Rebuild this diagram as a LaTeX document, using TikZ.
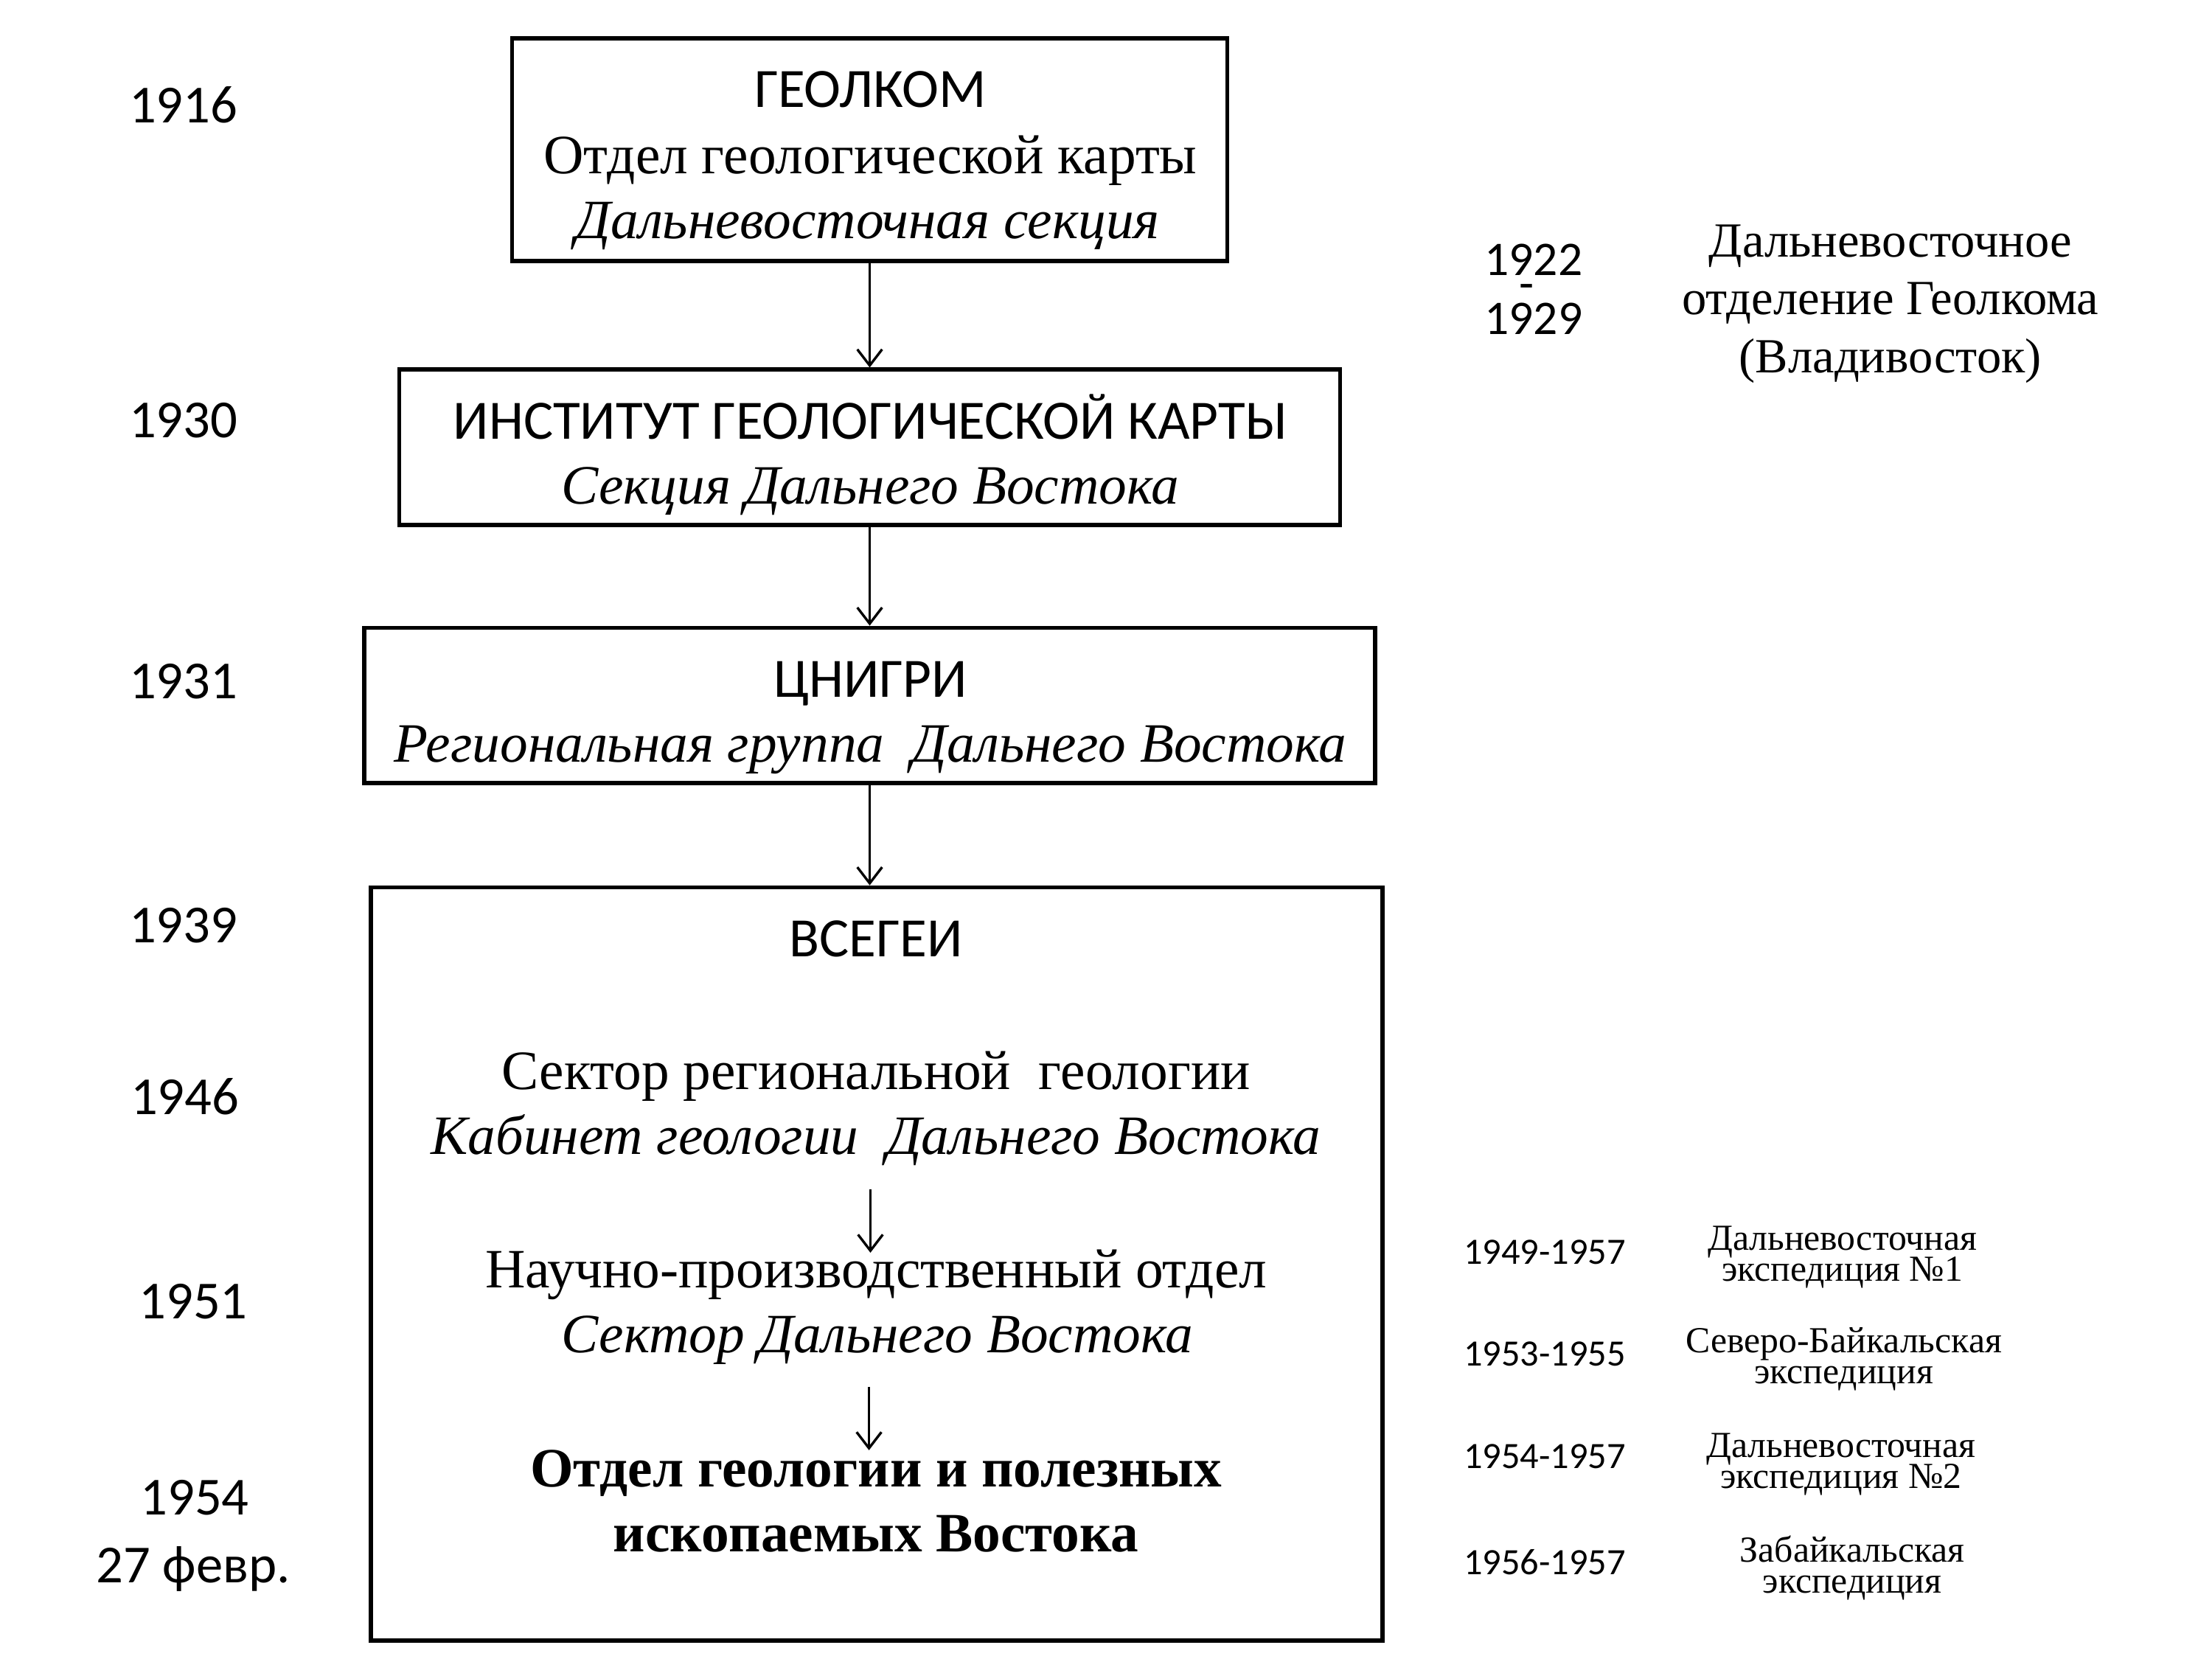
\documentclass[tikz,border=0pt]{standalone}
\usepackage{fontspec}
\setmainfont{Liberation Serif}
\newfontfamily\calfont{Carlito}
\usetikzlibrary{arrows.meta}
\tikzset{
  frame/.style={draw=black, line width=1.7pt, inner sep=0pt},
  yr/.style={font=\calfont\fontsize{21.6}{26}\selectfont, anchor=base, inner sep=0pt},
  yrsmall/.style={font=\calfont\fontsize{15}{17}\selectfont, anchor=base, inner sep=0pt},
  sansline/.style={font=\calfont\fontsize{22.4}{28}\selectfont, anchor=base, inner sep=0pt},
  serline/.style={font=\fontsize{22.4}{28}\selectfont, anchor=base, inner sep=0pt},
  itline/.style={font=\itshape\fontsize{22.4}{28}\selectfont, anchor=base, inner sep=0pt},
  boldline/.style={font=\bfseries\fontsize{22.4}{28}\selectfont, anchor=base, inner sep=0pt},
  sideline/.style={font=\fontsize{19.8}{24}\selectfont, anchor=base, inner sep=0pt},
  smallser/.style={font=\fontsize{14.8}{17}\selectfont, anchor=base, inner sep=0pt},
  arr/.style={line width=1pt, -{Straight Barb[length=6.5pt,width=10pt,line width=1pt]}},
}
\begin{document}
\begin{tikzpicture}[x=0.02cm,y=-0.02cm]
\useasboundingbox (0,0) rectangle (1568,1176);

% boxes
\node[frame, minimum width=10.14cm, minimum height=3.16cm] (b1) at (616.5,106) {};
\node[frame, minimum width=13.34cm, minimum height=2.2cm] (b2) at (616.5,317) {};
\node[frame, minimum width=14.34cm, minimum height=2.2cm] (b3) at (616.5,500) {};
\node[frame, minimum width=14.34cm, minimum height=10.68cm] (b4) at (621.5,896) {};

% connectors between boxes
\draw[arr] (b1.south) -- (b1.south |- b2.north);
\draw[arr] (b2.south) -- (b2.south |- b3.north);
\draw[arr] (b3.south) -- (b3.south |- b4.north);

% inner arrows
\coordinate (i1s) at (617,843);
\coordinate (i1e) at (617,888);
\coordinate (i2s) at (616,983);
\coordinate (i2e) at (616,1028);
\draw[arr] (i1s) -- (i1e);
\draw[arr] (i2s) -- (i2e);

% box 1 text
\node[sansline] (t11) at (617,76) {ГЕОЛКОМ};
\node[serline] (t12) at (617,123) {Отдел геологической карты};
\node[itline] (t13) at (615,169) {Дальневосточная секция};
% box 2 text
\node[sansline] (t21) at (617,311) {ИНСТИТУТ ГЕОЛОГИЧЕСКОЙ КАРТЫ};
\node[itline] (t22) at (617,357) {Секция Дальнего Востока};
% box 3 text
\node[sansline] (t31) at (617,494) {ЦНИГРИ};
\node[itline] (t32) at (617,540) {Региональная группа\ \ Дальнего Востока};
% box 4 text
\node[sansline] (t41) at (621,678) {ВСЕГЕИ};
\node[serline] (t42) at (621,772) {Сектор региональной\ \ геологии};
\node[itline] (t43) at (621,818) {Кабинет геологии\ \ Дальнего Востока};
\node[serline] (t44) at (621,913) {Научно-производственный отдел};
\node[itline] (t45) at (622,959) {Сектор Дальнего Востока};
\node[boldline] (t46) at (621,1054) {Отдел геологии и полезных};
\node[boldline] (t47) at (621,1100) {ископаемых Востока};

% left years
\node[yr] (y1916) at (130,87) {1916};
\node[yr] (y1930) at (130,310) {1930};
\node[yr] (y1931) at (130,495) {1931};
\node[yr] (y1939) at (130,668) {1939};
\node[yr] (y1946) at (131,790) {1946};
\node[yr] (y1951) at (137,935) {1951};
\node[yr] (y1954) at (138,1074) {1954};
\node[yr] (yfeb) at (137,1122) {27 февр.};

% right top
\node[font=\calfont\fontsize{19.5}{24}\selectfont, anchor=base, inner sep=0pt] (r1922) at (1087,195) {1922};
\node[font=\calfont\fontsize{19.5}{24}\selectfont, inner sep=0pt] (rdash) at (1082,207) {-};
\node[font=\calfont\fontsize{19.5}{24}\selectfont, anchor=base, inner sep=0pt] (r1929) at (1087,237) {1929};
\node[sideline] (s1) at (1340,182) {Дальневосточное};
\node[sideline] (s2) at (1340,223) {отделение Геолкома};
\node[sideline] (s3) at (1340,264) {(Владивосток)};

% right bottom expeditions
\node[yrsmall] (e1y) at (1095,896) {1949-1957};
\node[smallser] (e1a) at (1306,886) {Дальневосточная};
\node[smallser] (e1b) at (1306,908) {экспедиция №1};
\node[yrsmall] (e2y) at (1095,968) {1953-1955};
\node[smallser] (e2a) at (1307,959) {Северо-Байкальская};
\node[smallser] (e2b) at (1307,981) {экспедиция};
\node[yrsmall] (e3y) at (1095,1041) {1954-1957};
\node[smallser] (e3a) at (1305,1033) {Дальневосточная};
\node[smallser] (e3b) at (1305,1055) {экспедиция №2};
\node[yrsmall] (e4y) at (1095,1116) {1956-1957};
\node[smallser] (e4a) at (1313,1107) {Забайкальская};
\node[smallser] (e4b) at (1313,1129) {экспедиция};
\end{tikzpicture}
\end{document}
